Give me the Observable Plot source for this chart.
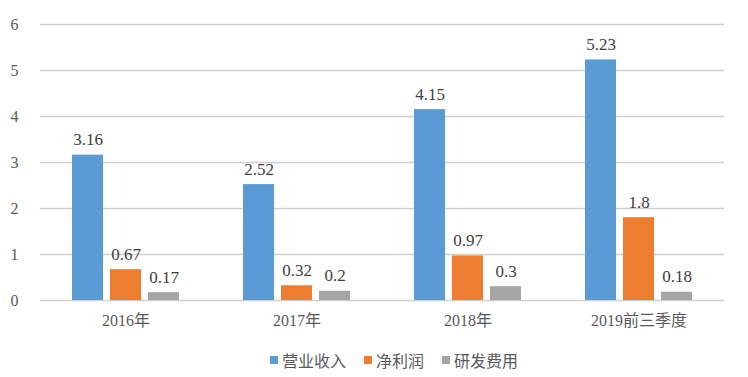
<!DOCTYPE html>
<html><head><meta charset="utf-8">
<script src="https://cdn.jsdelivr.net/npm/d3@7"></script>
<script src="https://cdn.jsdelivr.net/npm/@observablehq/plot@0.6"></script>
<style>
body{margin:0;background:#fff;}
#legend{display:flex;justify-content:center;gap:18px;font-size:16px;color:#595959;margin-top:12px;padding-left:40px;font-family:'Liberation Serif','Noto Sans CJK SC',serif;}
#legend span{display:inline-flex;align-items:center;}
#legend i{display:inline-block;width:8px;height:8px;margin-right:4px;}
</style></head>
<body>
<div id="chart"></div>
<div id="legend"></div>
<script>
const years = ["2016年","2017年","2018年","2019前三季度"];
const series = ["营业收入","净利润","研发费用"];
const colors = ["#5B9BD5","#ED7D31","#A5A5A5"];
const revenue = [3.16,2.52,4.15,5.23];
const profit = [0.67,0.32,0.97,1.8];
const rnd = [0.17,0.2,0.3,0.18];
const yTicks = [0,1,2,3,4,5,6];

const vals = [revenue, profit, rnd];
const data = [];
years.forEach((y,i)=>series.forEach((s,j)=>data.push({year:y, series:s, value:vals[j][i]})));

const FF = "Liberation Serif, Noto Sans CJK SC, serif";
const chart = Plot.plot({
  width: 748, height: 336,
  marginTop: 24, marginBottom: 36, marginLeft: 38, marginRight: 23,
  style:{fontSize:"16px", color:"#595959", background:"#fff", fontFamily:FF},
  fx:{domain:years, padding:0, label:null},
  x:{domain:series, paddingInner:0.184, paddingOuter:0.829, axis:null},
  y:{domain:[0,6], label:null},
  color:{domain:series, range:colors},
  marks:[
    Plot.gridY(yTicks,{stroke:"#d0d0d0", strokeOpacity:1, strokeWidth:1.5}),
    Plot.axisY(yTicks,{tickSize:0, tickPadding:22, tickFormat:d=>String(d), fontFamily:FF, fontSize:16, label:null}),
    Plot.axisFx({anchor:"bottom", tickSize:0, tickPadding:14, fontFamily:FF, fontSize:16, label:null}),
    Plot.barY(data,{fx:"year", x:"series", y:"value", fill:"series"}),
    Plot.text(data,{fx:"year", x:"series", y:"value", text:d=>String(d.value), lineAnchor:"bottom", dy:-10, fill:"#404040", fontSize:17, fontFamily:FF})
  ]
});
document.getElementById("chart").appendChild(chart);
const lg = document.getElementById("legend");
series.forEach((s,i)=>{const sp=document.createElement("span");sp.innerHTML=`<i style="background:${colors[i]}"></i>${s}`;lg.appendChild(sp);});
</script>
</body></html>
